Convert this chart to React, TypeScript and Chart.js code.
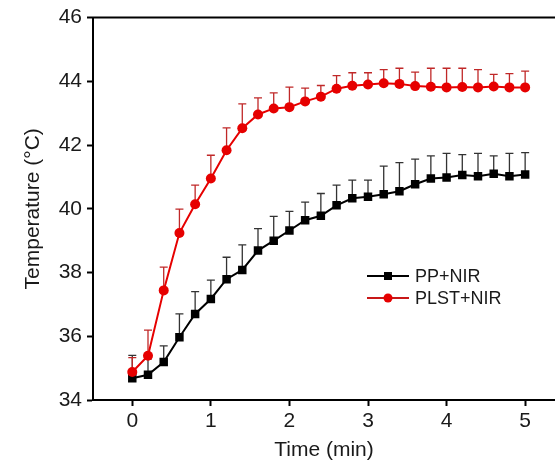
import React, { useEffect, useRef } from "react";
import { Chart, registerables } from "chart.js";

Chart.register(...registerables);

const times = [0, 0.2, 0.4, 0.6, 0.8, 1.0, 1.2, 1.4, 1.6, 1.8, 2.0, 2.2, 2.4, 2.6, 2.8, 3.0, 3.2, 3.4, 3.6, 3.8, 4.0, 4.2, 4.4, 4.6, 4.8, 5.0];

const ppValues = [34.68, 34.79, 35.19, 35.97, 36.7, 37.17, 37.79, 38.08, 38.69, 39.0, 39.32, 39.64, 39.78, 40.11, 40.33, 40.38, 40.46, 40.55, 40.77, 40.95, 40.98, 41.06, 41.02, 41.1, 41.02, 41.08];
const ppErrors = [0.72, 0.5, 0.51, 0.73, 0.7, 0.59, 0.69, 0.79, 0.69, 0.76, 0.6, 0.57, 0.7, 0.63, 0.57, 0.52, 0.88, 0.9, 0.79, 0.71, 0.76, 0.64, 0.72, 0.56, 0.72, 0.68];

const plstValues = [34.88, 35.39, 37.44, 39.24, 40.14, 40.95, 41.84, 42.53, 42.96, 43.15, 43.19, 43.37, 43.52, 43.77, 43.86, 43.9, 43.94, 43.92, 43.85, 43.83, 43.81, 43.82, 43.81, 43.84, 43.81, 43.81];
const plstErrors = [0.45, 0.8, 0.73, 0.75, 0.6, 0.73, 0.7, 0.76, 0.52, 0.49, 0.63, 0.42, 0.35, 0.41, 0.41, 0.37, 0.43, 0.49, 0.44, 0.58, 0.6, 0.59, 0.56, 0.38, 0.43, 0.51];

const xTicks = [0, 1, 2, 3, 4, 5];
const yTicks = [34, 36, 38, 40, 42, 44, 46];
const seriesLabels = ["PP+NIR", "PLST+NIR"];

const FONT = "'Liberation Sans', Arial, sans-serif";
const TEXT = "#1a1a1a";
const RED = "#e60000";

const errorBarPlugin = {
  id: "errorBars",
  beforeDatasetsDraw(chart: any) {
    const ctx = chart.ctx;
    const yScale = chart.scales.y;
    const errSets = [ppErrors, plstErrors];
    const colors = ["#333333", "#c02828"];
    [0, 1].forEach((di) => {
      const meta = chart.getDatasetMeta(di);
      const ds = chart.data.datasets[di];
      ctx.save();
      ctx.strokeStyle = colors[di];
      ctx.lineWidth = 1.3;
      meta.data.forEach((pt: any, j: number) => {
        const v = ds.data[j].y;
        const top = yScale.getPixelForValue(v + errSets[di][j]);
        ctx.beginPath();
        ctx.moveTo(pt.x, pt.y);
        ctx.lineTo(pt.x, top);
        ctx.moveTo(pt.x - 4, top);
        ctx.lineTo(pt.x + 4, top);
        ctx.stroke();
      });
      ctx.restore();
    });
  },
};

const framePlugin = {
  id: "frame",
  afterDraw(chart: any) {
    const ctx = chart.ctx;
    const a = chart.chartArea;
    ctx.save();
    ctx.strokeStyle = "#000";
    ctx.lineWidth = 2;
    ctx.beginPath();
    ctx.moveTo(a.left - 1, a.top);
    ctx.lineTo(a.right, a.top);
    ctx.stroke();

    // legend
    const entries = [
      { label: seriesLabels[0], color: "#000", style: "rect", y: 276 },
      { label: seriesLabels[1], color: RED, style: "circle", y: 298 },
    ];
    entries.forEach((e) => {
      ctx.strokeStyle = e.color === RED ? "#c81818" : "#000";
      ctx.lineWidth = 2;
      ctx.beginPath();
      ctx.moveTo(367, e.y);
      ctx.lineTo(409, e.y);
      ctx.stroke();
      ctx.fillStyle = e.color;
      if (e.style === "rect") {
        ctx.fillRect(384, e.y - 4, 8, 8);
      } else {
        ctx.beginPath();
        ctx.arc(388, e.y, 4.5, 0, Math.PI * 2);
        ctx.fill();
      }
      ctx.fillStyle = TEXT;
      ctx.font = `18px ${FONT}`;
      ctx.textBaseline = "middle";
      ctx.textAlign = "left";
      ctx.fillText(e.label, 415, e.y + 1);
    });
    ctx.restore();
  },
};

export default function App() {
  const ref = useRef<HTMLCanvasElement | null>(null);

  useEffect(() => {
    if (!ref.current) return;
    const chart = new Chart(ref.current, {
      type: "line",
      data: {
        datasets: [
          {
            label: seriesLabels[0],
            data: times.map((t, i) => ({ x: t, y: ppValues[i] })),
            borderColor: "#000",
            backgroundColor: "#000",
            borderWidth: 2,
            pointStyle: "rect",
            pointRadius: 6,
            pointBorderWidth: 0,
            order: 1,
          },
          {
            label: seriesLabels[1],
            data: times.map((t, i) => ({ x: t, y: plstValues[i] })),
            borderColor: RED,
            backgroundColor: RED,
            borderWidth: 2,
            pointStyle: "circle",
            pointRadius: 5,
            pointBorderWidth: 0,
            order: 0,
          },
        ],
      },
      options: {
        animation: false,
        responsive: false,
        maintainAspectRatio: false,
        layout: { padding: { top: 16, left: 0, right: 0, bottom: 0 } },
        plugins: { legend: { display: false }, tooltip: { enabled: false } },
        scales: {
          x: {
            type: "linear",
            min: -0.5,
            max: 5.38,
            afterBuildTicks: (s: any) => {
              s.ticks = xTicks.map((v) => ({ value: v }));
            },
            afterFit: (s: any) => {
              s.height = 70;
              s.paddingRight = 0;
              s.paddingLeft = 0;
            },
            grid: { display: true, drawOnChartArea: false, drawTicks: true, tickLength: 6, tickColor: "#000", tickWidth: 2 },
            border: { display: true, color: "#000", width: 2 },
            ticks: { autoSkip: false, maxRotation: 0, padding: 3, color: TEXT, font: { family: FONT, size: 21 } },
            title: { display: true, text: "Time (min)", color: TEXT, font: { family: FONT, size: 21 }, padding: { top: 0, bottom: 7 } },
          },
          y: {
            type: "linear",
            min: 34,
            max: 46,
            afterBuildTicks: (s: any) => {
              s.ticks = yTicks.map((v) => ({ value: v }));
            },
            afterFit: (s: any) => {
              s.width = 93;
            },
            grid: { display: true, drawOnChartArea: false, drawTicks: true, tickLength: 6, tickColor: "#000", tickWidth: 2 },
            border: { display: true, color: "#000", width: 2 },
            ticks: { autoSkip: false, padding: 5, color: TEXT, font: { family: FONT, size: 21 } },
            title: { display: true, text: "Temperature (°C)", color: TEXT, font: { family: FONT, size: 21 }, padding: { top: 21, bottom: 0 } },
          },
        },
      },
      plugins: [errorBarPlugin, framePlugin],
    } as any);
    return () => chart.destroy();
  }, []);

  return (
    <div style={{ position: "fixed", left: 0, top: 0, width: 555, height: 470, background: "#fff", overflow: "hidden" }}>
      <canvas ref={ref} width={561} height={470} style={{ width: 561, height: 470, display: "block" }} />
    </div>
  );
}
